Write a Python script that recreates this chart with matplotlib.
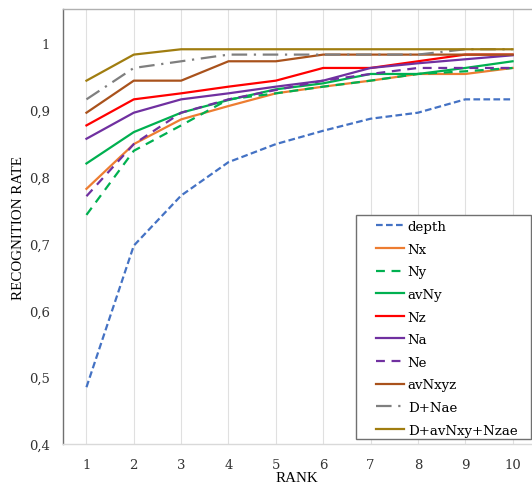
import matplotlib
matplotlib.use("Agg")
import matplotlib.pyplot as plt
from matplotlib.patches import Rectangle
from matplotlib.ticker import FuncFormatter

# rank 1..10
rank = [1, 2, 3, 4, 5, 6, 7, 8, 9, 10]

depth = [0.485, 0.697, 0.772, 0.822, 0.849, 0.869, 0.887, 0.896, 0.916, 0.916]
nx = [0.782, 0.849, 0.886, 0.906, 0.925, 0.935, 0.944, 0.954, 0.954, 0.963]
ny = [0.743, 0.839, 0.877, 0.916, 0.925, 0.935, 0.944, 0.954, 0.958, 0.963]
avny = [0.820, 0.867, 0.896, 0.915, 0.931, 0.940, 0.954, 0.954, 0.963, 0.973]
nz = [0.877, 0.916, 0.925, 0.935, 0.944, 0.963, 0.963, 0.973, 0.983, 0.983]
na = [0.857, 0.896, 0.916, 0.925, 0.935, 0.944, 0.963, 0.970, 0.976, 0.982]
ne = [0.771, 0.849, 0.896, 0.916, 0.930, 0.944, 0.954, 0.963, 0.963, 0.963]
avnxyz = [0.896, 0.944, 0.944, 0.973, 0.973, 0.983, 0.983, 0.983, 0.983, 0.983]
d_nae = [0.916, 0.963, 0.973, 0.983, 0.983, 0.983, 0.983, 0.983, 0.991, 0.991]
d_all = [0.944, 0.983, 0.991, 0.991, 0.991, 0.991, 0.991, 0.991, 0.991, 0.991]

plt.rcParams["font.family"] = ["DejaVu Serif"]

fig = plt.figure(figsize=(5.32, 4.85), dpi=100)
ax = fig.add_axes([0.118, 0.0825, 0.882, 0.8965])

lw = 1.6
ax.plot(rank, depth, color="#4472C4", ls=(0, (3, 1.5)), lw=lw, label="depth")
ax.plot(rank, nx, color="#ED7D31", lw=lw, label="Nx")
ax.plot(rank, ny, color="#00B050", ls=(0, (4, 3)), lw=lw, label="Ny")
ax.plot(rank, avny, color="#00B050", lw=lw, label="avNy")
ax.plot(rank, nz, color="#FF0000", lw=lw, label="Nz")
ax.plot(rank, na, color="#7030A0", lw=lw, label="Na")
ax.plot(rank, ne, color="#7030A0", ls=(0, (4, 3)), lw=lw, label="Ne")
ax.plot(rank, avnxyz, color="#A9521C", lw=lw, label="avNxyz")
ax.plot(rank, d_nae, color="#7F7F7F", ls=(0, (7, 3, 1, 3)), lw=lw, label="D+Nae")
ax.plot(rank, d_all, color="#A07D10", lw=lw, label="D+avNxy+Nzae")

ax.set_xlim(0.5, 10.41)
ax.set_ylim(0.4, 1.051)
ax.set_xticks(rank)
ax.set_yticks([0.4, 0.5, 0.6, 0.7, 0.8, 0.9, 1.0])
ax.yaxis.set_major_formatter(FuncFormatter(lambda v, p: ("%g" % round(v, 1)).replace(".", ",")))
ax.tick_params(axis="both", length=0, labelsize=9.5, colors="#333333")
ax.tick_params(axis="y", pad=9)
ax.tick_params(axis="x", pad=10)
ax.xaxis.grid(True, color="#E0E0E0", lw=0.8)
ax.set_axisbelow(True)

ax.spines["left"].set_color("#707070")
ax.spines["top"].set_color("#B0B0B0")
ax.spines["bottom"].set_color("#D9D9D9")
ax.spines["right"].set_visible(False)
for s in ax.spines.values():
    s.set_linewidth(1.0)

ax.set_xlabel("RANK", fontsize=10.8, family="Liberation Serif", labelpad=0)
ax.set_ylabel("RECOGNITION RATE", fontsize=10.8, family="Liberation Serif", labelpad=3)

# legend box drawn separately so the entries can sit further in
ax.add_patch(Rectangle((0.625, 0.0115), 0.373, 0.5145, transform=ax.transAxes,
                       facecolor="white", edgecolor="#707070", lw=1.0, zorder=5,
                       clip_on=False))
leg = ax.legend(loc="upper left", bbox_to_anchor=(0.66, 0.524), fontsize=9.6,
                frameon=False, handlelength=2.1, handletextpad=0.25,
                labelspacing=0.72, borderpad=0.3, borderaxespad=0)
leg.set_zorder(6)

fig.savefig("out.png", dpi=100)
